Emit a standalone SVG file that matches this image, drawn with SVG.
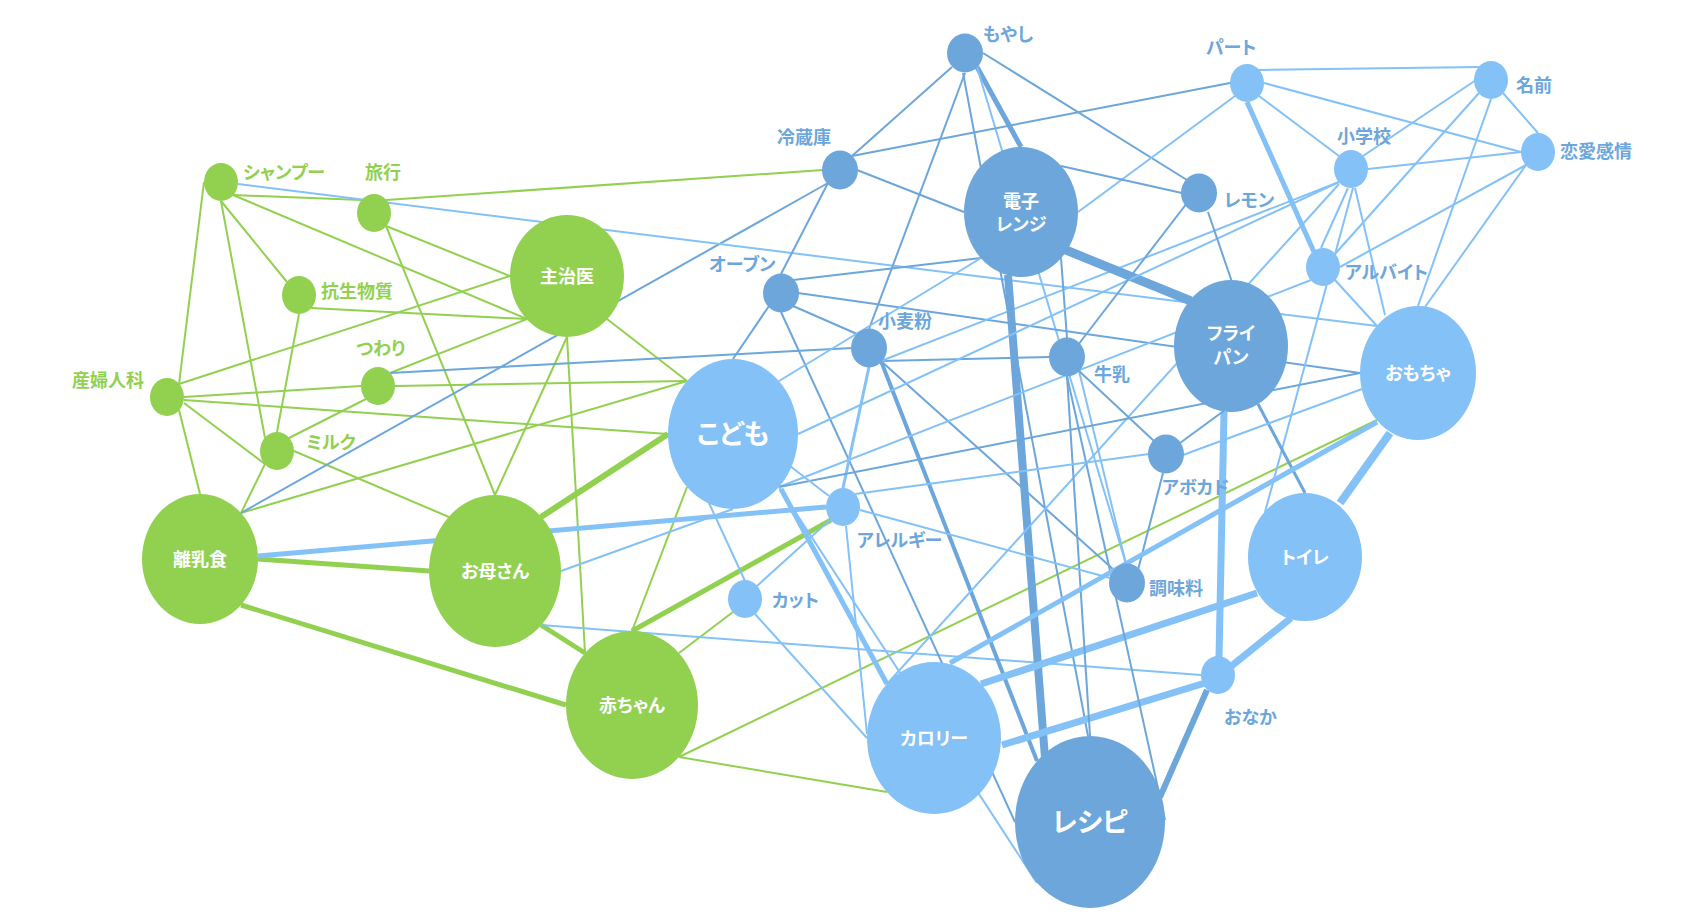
<svg xmlns="http://www.w3.org/2000/svg" width="1698" height="917" viewBox="0 0 1698 917">
<style>
.g{stroke:#92D050;fill:none}
.d{stroke:#6CA6DA;fill:none}
.l{stroke:#83C1F7;fill:none}
line{stroke-width:2}
.w3{stroke-width:3}
.w4{stroke-width:4}
.w5{stroke-width:5}
.w6{stroke-width:6}
.w7{stroke-width:7}
.w8{stroke-width:8}
.w9{stroke-width:9}
.ng{fill:#92D050}
.nd{fill:#6CA6DA}
.nl{fill:#83C1F7}
text{font-family:"Noto Sans CJK JP","Noto Sans",sans-serif;font-weight:bold;font-feature-settings:"palt" 1}
.lg{fill:#92D050;font-size:18px}
.lb{fill:#6CA6DA;font-size:18px}
.t{fill:#fff;font-size:18px;text-anchor:middle}
.tb{fill:#fff;font-size:27px;text-anchor:middle}
</style>
<rect width="1698" height="917" fill="#fff"/>
<g id="connectors">
<line class="g" x1="233" y1="195" x2="362" y2="200"/>
<line class="g" x1="386" y1="200" x2="823" y2="170"/>
<line class="g" x1="221" y1="201" x2="287" y2="282"/>
<line class="g" x1="204" y1="182" x2="179" y2="384"/>
<line class="g" x1="221" y1="201" x2="265" y2="438"/>
<line class="g" x1="233" y1="195" x2="527" y2="319"/>
<line class="g" x1="386" y1="226" x2="510" y2="276"/>
<line class="g" x1="386" y1="226" x2="495" y2="495"/>
<line class="g" x1="179" y1="384" x2="510" y2="276"/>
<line class="g" x1="311" y1="308" x2="527" y2="319"/>
<line class="g" x1="299" y1="314" x2="277" y2="432"/>
<line class="g" x1="184" y1="397" x2="361" y2="386"/>
<line class="g" x1="184" y1="400" x2="668" y2="434"/>
<line class="g" x1="184" y1="403" x2="265" y2="464"/>
<line class="g" x1="179" y1="410" x2="200" y2="494"/>
<line class="g" x1="390" y1="373" x2="527" y2="319"/>
<line class="g" x1="395" y1="386" x2="687" y2="381"/>
<line class="g" x1="366" y1="399" x2="289" y2="438"/>
<line class="g" x1="265" y1="464" x2="241" y2="513"/>
<line class="g" x1="294" y1="451" x2="449" y2="517"/>
<line class="g" x1="241" y1="513" x2="687" y2="381"/>
<line class="g w5" x1="258" y1="559" x2="429" y2="571"/>
<line class="g w5" x1="241" y1="605" x2="566" y2="705"/>
<line class="g" x1="495" y1="495" x2="567" y2="337"/>
<line class="g w6" x1="541" y1="517" x2="668" y2="434"/>
<line class="g w5" x1="541" y1="625" x2="585" y2="653"/>
<line class="g" x1="607" y1="319" x2="687" y2="381"/>
<line class="g" x1="567" y1="337" x2="585" y2="653"/>
<line class="g" x1="687" y1="487" x2="632" y2="631"/>
<line class="g w5" x1="831" y1="520" x2="632" y2="631"/>
<line class="g" x1="679" y1="653" x2="733" y2="612"/>
<line class="g" x1="679" y1="757" x2="1377" y2="420"/>
<line class="g" x1="679" y1="757" x2="887" y2="792"/>

<line class="d" x1="241" y1="513" x2="828" y2="183"/>
<line class="l" x1="238" y1="184" x2="1377" y2="326"/>
<line class="l w5" x1="258" y1="556" x2="826" y2="507"/>
<line class="l" x1="541" y1="625" x2="1201" y2="675"/>
<line class="l" x1="561" y1="571" x2="733" y2="509"/>
<line class="d" x1="952" y1="67" x2="852" y2="156"/>
<line class="d" x1="965" y1="73" x2="869" y2="329"/>
<line class="d" x1="963" y1="73" x2="1088" y2="736"/>
<line class="d w5" x1="977" y1="67" x2="1021" y2="147"/>
<line class="l" x1="977" y1="67" x2="1126" y2="564"/>
<line class="d" x1="983" y1="53" x2="1187" y2="180"/>
<line class="d" x1="852" y1="156" x2="1230" y2="83"/>
<line class="d" x1="857" y1="170" x2="964" y2="212"/>
<line class="d" x1="828" y1="183" x2="781" y2="274"/>
<line class="d" x1="769" y1="306" x2="733" y2="359"/>
<line class="d" x1="793" y1="280" x2="981" y2="258"/>
<line class="d" x1="798" y1="293" x2="1360" y2="373"/>
<line class="d" x1="793" y1="306" x2="857" y2="334"/>
<line class="d" x1="781" y1="312" x2="1015" y2="822"/>
<line class="d" x1="390" y1="373" x2="852" y2="348"/>
<line class="d" x1="881" y1="361" x2="1050" y2="357"/>
<line class="l w3" x1="869" y1="367" x2="843" y2="488"/>
<line class="d w4" x1="881" y1="361" x2="1037" y2="761"/>
<line class="d" x1="881" y1="361" x2="1114" y2="570"/>
<line class="l" x1="881" y1="361" x2="1339" y2="182"/>
<line class="d w9" x1="1061" y1="248" x2="1191" y2="301"/>
<line class="d w8" x1="1008" y1="275" x2="1045" y2="758"/>
<line class="d" x1="1061" y1="258" x2="1067" y2="338"/>
<line class="l" x1="1078" y1="212" x2="1235" y2="96"/>
<line class="d" x1="1061" y1="166" x2="1182" y2="193"/>
<line class="l" x1="1259" y1="70" x2="1479" y2="67"/>
<line class="l" x1="1264" y1="83" x2="1521" y2="152"/>
<line class="l" x1="1259" y1="96" x2="1339" y2="156"/>
<line class="l w5" x1="1247" y1="102" x2="1314" y2="252"/>
<line class="l" x1="1503" y1="93" x2="1538" y2="133"/>
<line class="l" x1="1479" y1="78" x2="1363" y2="156"/>
<line class="l" x1="1479" y1="93" x2="1335" y2="254"/>
<line class="l" x1="1491" y1="99" x2="1418" y2="306"/>
<line class="l" x1="1521" y1="152" x2="1368" y2="169"/>
<line class="l" x1="1526" y1="165" x2="1340" y2="267"/>
<line class="l" x1="1526" y1="165" x2="1425" y2="307"/>
<line class="l" x1="1348" y1="188" x2="1321" y2="248"/>
<line class="l" x1="1353" y1="188" x2="1265" y2="512"/>
<line class="l" x1="1355" y1="188" x2="1385" y2="315"/>
<line class="l" x1="1335" y1="280" x2="1377" y2="326"/>
<line class="l" x1="1339" y1="182" x2="798" y2="434"/>
<line class="l" x1="1339" y1="184" x2="887" y2="684"/>
<line class="l" x1="779" y1="487" x2="1311" y2="280"/>
<line class="d" x1="1187" y1="203" x2="1078" y2="345"/>
<line class="d" x1="1208" y1="212" x2="1232" y2="282"/>
<line class="l w7" x1="1224" y1="412" x2="1219" y2="658"/>
<line class="d w3" x1="1258" y1="404" x2="1305" y2="493"/>
<line class="l w8" x1="1390" y1="433" x2="1340" y2="503"/>
<line class="l w7" x1="1257" y1="593" x2="981" y2="684"/>
<line class="l w7" x1="1291" y1="618" x2="1229" y2="668"/>
<line class="l w7" x1="1002" y1="745" x2="1205" y2="683"/>
<line class="d w6" x1="1207" y1="690" x2="1160" y2="797"/>
<line class="d" x1="1067" y1="376" x2="1165" y2="820"/>
<line class="d" x1="1067" y1="376" x2="1090" y2="736"/>
<line class="l" x1="1079" y1="371" x2="1126" y2="564"/>
<line class="d" x1="1078" y1="370" x2="1154" y2="441"/>
<line class="d" x1="1163" y1="473" x2="1138" y2="570"/>
<line class="d" x1="1180" y1="443" x2="1225" y2="410"/>
<line class="l" x1="1183" y1="455" x2="1362" y2="389"/>
<line class="d" x1="779" y1="487" x2="1360" y2="373"/>
<line class="l" x1="855" y1="494" x2="1149" y2="454"/>
<line class="l" x1="860" y1="510" x2="1110" y2="578"/>
<line class="l" x1="709" y1="503" x2="745" y2="581"/>
<line class="l" x1="757" y1="586" x2="831" y2="519"/>
<line class="l" x1="755" y1="614" x2="867" y2="738"/>
<line class="l" x1="846" y1="526" x2="867" y2="734"/>
<line class="l" x1="779" y1="487" x2="1037" y2="883"/>
<line class="l w5" x1="781" y1="489" x2="887" y2="684"/>
<line class="l" x1="790" y1="466" x2="829" y2="496"/>
<line class="l w5" x1="950" y1="663" x2="1377" y2="422"/>
<line class="l" x1="779" y1="381" x2="981" y2="258"/>
</g>
<g id="n-shampoo"><ellipse class="ng" cx="221" cy="182" rx="17" ry="19"/><text class="lg" x="243" y="179">シャンプー</text></g>
<g id="n-ryoko"><ellipse class="ng" cx="374" cy="213" rx="17" ry="19"/><text class="lg" x="365" y="179">旅行</text></g>
<g id="n-kosei"><ellipse class="ng" cx="299" cy="295" rx="17" ry="19"/><text class="lg" x="321" y="298">抗生物質</text></g>
<g id="n-shujii"><ellipse class="ng" cx="567" cy="276" rx="57" ry="61"/><text class="t" x="567" y="283">主治医</text></g>
<g id="n-sanfujinka"><ellipse class="ng" cx="167" cy="397" rx="17" ry="19"/><text class="lg" x="72" y="387">産婦人科</text></g>
<g id="n-tsuwari"><ellipse class="ng" cx="378" cy="386" rx="17" ry="19"/><text class="lg" x="356" y="355">つわり</text></g>
<g id="n-milk"><ellipse class="ng" cx="277" cy="451" rx="17" ry="19"/><text class="lg" x="306" y="449">ミルク</text></g>
<g id="n-rinyushoku"><ellipse class="ng" cx="200" cy="559" rx="58" ry="65"/><text class="t" x="200" y="566">離乳食</text></g>
<g id="n-okasan"><ellipse class="ng" cx="495" cy="571" rx="66" ry="76"/><text class="t" x="495" y="578">お母さん</text></g>
<g id="n-akachan"><ellipse class="ng" cx="632" cy="705" rx="66" ry="74"/><text class="t" x="632" y="712">赤ちゃん</text></g>
<g id="n-moyashi"><ellipse class="nd" cx="965" cy="53" rx="18" ry="19.5"/><text class="lb" x="983" y="41">もやし</text></g>
<g id="n-reizoko"><ellipse class="nd" cx="840" cy="170" rx="18" ry="19.5"/><text class="lb" x="777" y="144">冷蔵庫</text></g>
<g id="n-denshirenji"><ellipse class="nd" cx="1021" cy="212" rx="57" ry="65"/><text class="t" x="1021" y="208">電子</text><text class="t" x="1021" y="231">レンジ</text></g>
<g id="n-oven"><ellipse class="nd" cx="781" cy="293" rx="18" ry="19.5"/><text class="lb" x="709" y="271">オーブン</text></g>
<g id="n-komugiko"><ellipse class="nd" cx="869" cy="348" rx="18" ry="19.5"/><text class="lb" x="878" y="328">小麦粉</text></g>
<g id="n-gyunyu"><ellipse class="nd" cx="1067" cy="357" rx="18" ry="19.5"/><text class="lb" x="1094" y="381">牛乳</text></g>
<g id="n-lemon"><ellipse class="nd" cx="1199" cy="193" rx="18" ry="19.5"/><text class="lb" x="1224" y="207">レモン</text></g>
<g id="n-furaipan"><ellipse class="nd" cx="1231" cy="346" rx="57" ry="66"/><text class="t" x="1231" y="340">フライ</text><text class="t" x="1231" y="364">パン</text></g>
<g id="n-avocado"><ellipse class="nd" cx="1166" cy="454" rx="18" ry="19.5"/><text class="lb" x="1162" y="494">アボカド</text></g>
<g id="n-chomiryo"><ellipse class="nd" cx="1127" cy="583" rx="18" ry="19.5"/><text class="lb" x="1149" y="595">調味料</text></g>
<g id="n-recipe"><ellipse class="nd" cx="1090" cy="822" rx="75" ry="86"/><text class="tb" x="1090" y="832">レシピ</text></g>
<g id="n-part"><ellipse class="nl" cx="1247" cy="83" rx="17" ry="19"/><text class="lb" x="1206" y="54">パート</text></g>
<g id="n-namae"><ellipse class="nl" cx="1491" cy="80" rx="17" ry="19"/><text class="lb" x="1516" y="92">名前</text></g>
<g id="n-renai"><ellipse class="nl" cx="1538" cy="152" rx="17" ry="19"/><text class="lb" x="1560" y="158">恋愛感情</text></g>
<g id="n-shogakko"><ellipse class="nl" cx="1351" cy="169" rx="17" ry="19"/><text class="lb" x="1337" y="143">小学校</text></g>
<g id="n-arubaito"><ellipse class="nl" cx="1323" cy="267" rx="17" ry="19"/><text class="lb" x="1345" y="279">アルバイト</text></g>
<g id="n-omocha"><ellipse class="nl" cx="1418" cy="373" rx="58" ry="67"/><text class="t" x="1418" y="380">おもちゃ</text></g>
<g id="n-kodomo"><ellipse class="nl" cx="733" cy="434" rx="65" ry="75"/><text class="tb" x="733" y="444">こども</text></g>
<g id="n-allergy"><ellipse class="nl" cx="843" cy="507" rx="17" ry="19"/><text class="lb" x="857" y="547">アレルギー</text></g>
<g id="n-cut"><ellipse class="nl" cx="745" cy="599" rx="17" ry="19"/><text class="lb" x="772" y="607">カット</text></g>
<g id="n-toilet"><ellipse class="nl" cx="1305" cy="557" rx="57" ry="64"/><text class="t" x="1305" y="564">トイレ</text></g>
<g id="n-onaka"><ellipse class="nl" cx="1218" cy="675" rx="17" ry="19"/><text class="lb" x="1224" y="724">おなか</text></g>
<g id="n-calorie"><ellipse class="nl" cx="934" cy="738" rx="67" ry="76"/><text class="t" x="934" y="745">カロリー</text></g>
</svg>
